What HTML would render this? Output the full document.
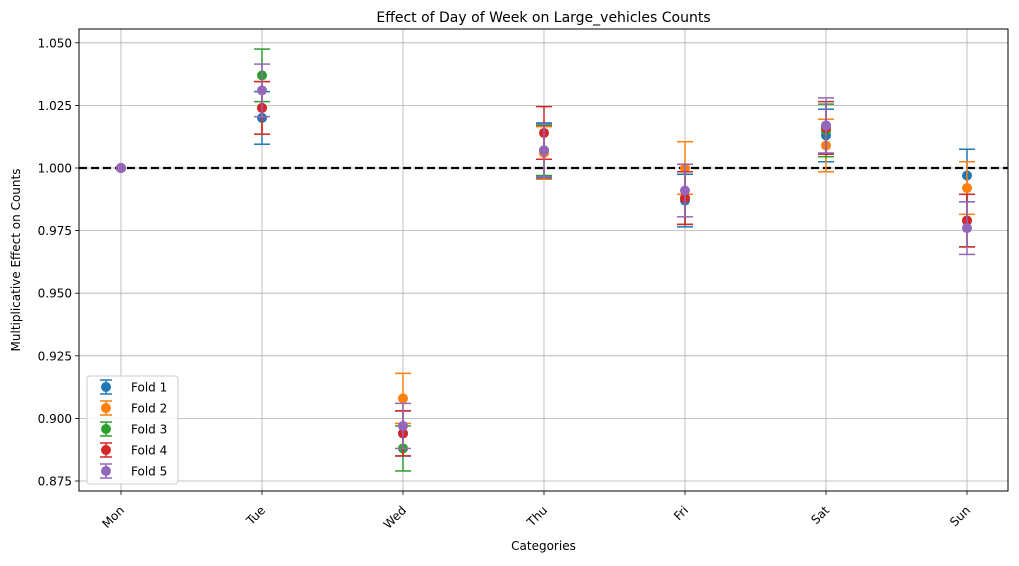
<!DOCTYPE html>
<html><head><meta charset="utf-8"><style>
body{margin:0;background:#fff;font-family:"DejaVu Sans","Liberation Sans",sans-serif;}
svg text{font-family:"DejaVu Sans","Liberation Sans",sans-serif;}
</style></head><body>
<svg id="chart" width="1019" height="562" xmlns="http://www.w3.org/2000/svg">
<rect width="1019" height="562" fill="#fff"/>
<g id="grid"></g>
<g id="marks"></g>
<g id="axes"></g>
</svg>
<script>
const categories=["Mon","Tue","Wed","Thu","Fri","Sat","Sun"];
const foldNames=["Fold 1","Fold 2","Fold 3","Fold 4","Fold 5"];
const colors=["#1f77b4","#ff7f0e","#2ca02c","#d62728","#9467bd"];
const fold1=[1.000,1.020,0.894,1.007,0.987,1.013,0.997];
const fold2=[1.000,1.024,0.908,1.006,1.000,1.009,0.992];
const fold3=[1.000,1.037,0.888,1.007,0.988,1.015,0.979];
const fold4=[1.000,1.024,0.894,1.014,0.988,1.016,0.979];
const fold5=[1.000,1.031,0.897,1.007,0.991,1.017,0.976];
const err1=[0,0.0105,0.009,0.011,0.0105,0.0105,0.0105];
const err2=[0,0.0105,0.010,0.0105,0.0105,0.0105,0.0105];
const err3=[0,0.0105,0.009,0.010,0.0105,0.0105,0.0105];
const err4=[0,0.0105,0.009,0.0105,0.0105,0.0105,0.0105];
const err5=[0,0.0105,0.009,0.0105,0.0105,0.011,0.0105];
const yTicks=[0.875,0.900,0.925,0.950,0.975,1.000,1.025,1.050];
const folds=[fold1,fold2,fold3,fold4,fold5];
const errs=[err1,err2,err3,err4,err5];

const L=79,R=1008,T=29,B=491;
const x=i=>121+i*(967-121)/6;
const y=v=>168+(1.0-v)/0.025*62.6;
const NS="http://www.w3.org/2000/svg";
function mk(tag,attrs,parent,text){const e=document.createElementNS(NS,tag);for(const k in attrs)e.setAttribute(k,attrs[k]);if(text!==undefined)e.textContent=text;parent.appendChild(e);return e;}
const grid=document.getElementById('grid'),marks=document.getElementById('marks'),axes=document.getElementById('axes');

categories.forEach((c,i)=>{
  const g=mk('line',{x1:x(i),x2:x(i),y1:T,y2:B,stroke:'#b0b0b0','stroke-width':0.8},grid);
  
  
  mk('line',{x1:x(i),x2:x(i),y1:B,y2:B+4,stroke:'#000','stroke-width':0.8},axes);
  const t=mk('text',{x:x(i)+4,y:B+20,'font-size':12,'text-anchor':'end',transform:`rotate(-45 ${x(i)+4} ${B+20})`},axes,c);
  
  
});
yTicks.forEach(v=>{
  const g=mk('line',{x1:L,x2:R,y1:y(v),y2:y(v),stroke:'#b0b0b0','stroke-width':0.8},grid);
  
  
  mk('line',{x1:L-4,x2:L,y1:y(v),y2:y(v),stroke:'#000','stroke-width':0.8},axes);
  const t=mk('text',{x:L-7,y:y(v)+4.5,'font-size':12,'text-anchor':'end'},axes,v.toFixed(3));
  
  
});
const ref=mk('line',{x1:L,x2:R,y1:y(1),y2:y(1),stroke:'#000','stroke-width':2.2,'stroke-dasharray':'8,4'},marks);



folds.forEach((f,k)=>{
  const g=mk('g',{},marks);
  
  
  f.forEach((v,i)=>{
    const e=errs[k][i],cx=x(i);
    if(e>0){
      mk('line',{x1:cx,x2:cx,y1:y(v-e),y2:y(v+e),stroke:colors[k],'stroke-width':1.5},g);
      mk('line',{x1:cx-8,x2:cx+8,y1:y(v-e),y2:y(v-e),stroke:colors[k],'stroke-width':1.5},g);
      mk('line',{x1:cx-8,x2:cx+8,y1:y(v+e),y2:y(v+e),stroke:colors[k],'stroke-width':1.5},g);
    }
    const p=mk('circle',{cx:cx,cy:y(v),r:5,fill:colors[k]},g);
    
    
  });
});

const frame=mk('rect',{x:L,y:T,width:R-L,height:B-T,fill:'none',stroke:'#000','stroke-width':1},axes);


const title=mk('text',{x:(L+R)/2,y:22,'font-size':14,'text-anchor':'middle'},axes,'Effect of Day of Week on Large_vehicles Counts');


const xt=mk('text',{x:(L+R)/2,y:550,'font-size':12,'text-anchor':'middle'},axes,'Categories');


const yt=mk('text',{x:20,y:(T+B)/2,'font-size':12,'text-anchor':'middle',transform:`rotate(-90 20 ${(T+B)/2})`},axes,'Multiplicative Effect on Counts');



const lg=mk('g',{},axes);


mk('rect',{x:87,y:376,width:91,height:108,rx:3,fill:'#fff','fill-opacity':0.85,stroke:'#ccc'},lg);
foldNames.forEach((n,k)=>{
  const ly=387+k*21;
  const e=mk('g',{},lg);
  
  
  mk('line',{x1:106,x2:106,y1:ly-7,y2:ly+7,stroke:colors[k],'stroke-width':1.5},e);
  mk('line',{x1:100,x2:112,y1:ly-7,y2:ly-7,stroke:colors[k],'stroke-width':1.5},e);
  mk('line',{x1:100,x2:112,y1:ly+7,y2:ly+7,stroke:colors[k],'stroke-width':1.5},e);
  mk('circle',{cx:106,cy:ly,r:5,fill:colors[k]},e);
  mk('text',{x:131,y:ly+4.5,'font-size':12},e,n);
});
</script>
</body></html>
